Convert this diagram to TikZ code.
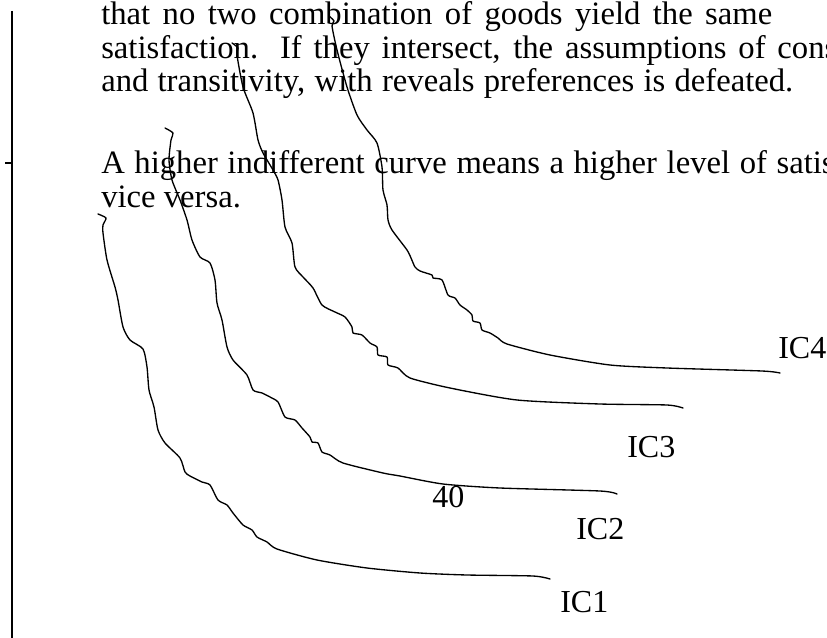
\documentclass[tikz,border=0pt]{standalone}
\usepackage{fontspec}
\setmainfont{Liberation Serif}
\usepackage{tikz}
\tikzset{
  bodyline/.style={font=\fontsize{24.5}{27}\selectfont, inner sep=0pt, anchor=base west},
  iclabel/.style={font=\fontsize{24}{27}\selectfont, inner sep=0pt, anchor=base west},
  iccurve/.style={line width=1pt, line join=round, line cap=round},
  axisline/.style={line width=1.6pt}
}

\begin{document}
\begin{tikzpicture}[x=0.75pt, y=-0.75pt]
      \clip (0,0) rectangle (827,638);
      % Text lines
      \node[bodyline] (line1) at (101,25) {\makebox[503.25pt][s]{that no two combination of goods yield the same}};
      \node[bodyline] (line2) at (101,59) {\makebox[552pt][s]{satisfaction. If they intersect, the assumptions of cons}};
      \node[bodyline] (line3) at (101,92) {\makebox[519pt][s]{and transitivity, with reveals preferences is defeated.}};
      \node[bodyline] (line4) at (101,173) {\makebox[550pt][s]{A higher indifferent curve means a higher level of satis}};
      \node[bodyline] (line5) at (101,207) {vice versa.};
      % Vertical axis
      \draw[axisline] (12,11) -- (12,638);
      \draw[axisline] (5,163) -- (12,163);
      % IC1
      \draw[iccurve] plot[smooth, tension=0.4] coordinates {(98,214) (106,218) (103,225) (103,233) (107,260) (115,287) (118,300) (123,327) (130,340) (143,349) (147,367) (149,390) (154,407) (158,430) (165,443) (180,458) (185,472) (190,476) (202,482) (210,485) (218,500) (227,505) (233,513) (243,525) (252,530) (257,537) (267,542) (277,549) (317,560) (367,568) (420,573) (467,575) (533,576) (550,579)};
      % IC2
      \draw[iccurve] plot[smooth, tension=0.4] coordinates {(165,128) (173,133) (171,140) (169,160) (172,180) (180,200) (187,220) (192,240) (200,257) (210,263) (215,280) (217,303) (222,320) (227,347) (233,360) (247,375) (253,390) (262,393) (270,397) (278,402) (285,417) (295,420) (302,428) (310,437) (312,442) (318,443) (322,452) (330,455) (343,463) (383,473) (400,476) (443,484) (500,488) (600,491) (617,494)};
      % IC3
      \draw[iccurve] plot[smooth, tension=0.4] coordinates {(232,43) (238,48) (237,55) (243,87) (253,113) (258,140) (263,153) (273,170) (278,180) (282,200) (285,227) (292,243) (295,267) (303,277) (313,288) (322,305) (335,312) (345,317) (352,327) (353,333) (362,335) (370,343) (377,347) (378,355) (387,357) (388,365) (398,368) (410,378) (450,388) (517,400) (600,404) (667,405) (683,408)};
      % IC4
      \draw[iccurve] plot[smooth, tension=0.4] coordinates {(329,16) (334,21) (332,26) (337,50) (347,87) (357,115) (367,130) (377,143) (382,167) (383,190) (387,205) (388,220) (392,230) (407,250) (411,258) (415,267) (420,271) (432,275) (433,278) (442,280) (448,295) (455,298) (460,305) (467,310) (472,315) (473,321) (480,323) (482,330) (490,333) (498,338) (507,344) (550,355) (610,365) (667,368) (762,371) (780,373)};
      % Curve labels
      \node[iclabel] (ic4lbl) at (778,358) {IC4};
      \node[iclabel] (ic3lbl) at (627,457) {IC3};
      \node[iclabel] (ic2lbl) at (576,539) {IC2};
      \node[iclabel] (ic1lbl) at (560,612) {IC1};
      \node[iclabel] (val40) at (432,507) {40};
\end{tikzpicture}
\end{document}
